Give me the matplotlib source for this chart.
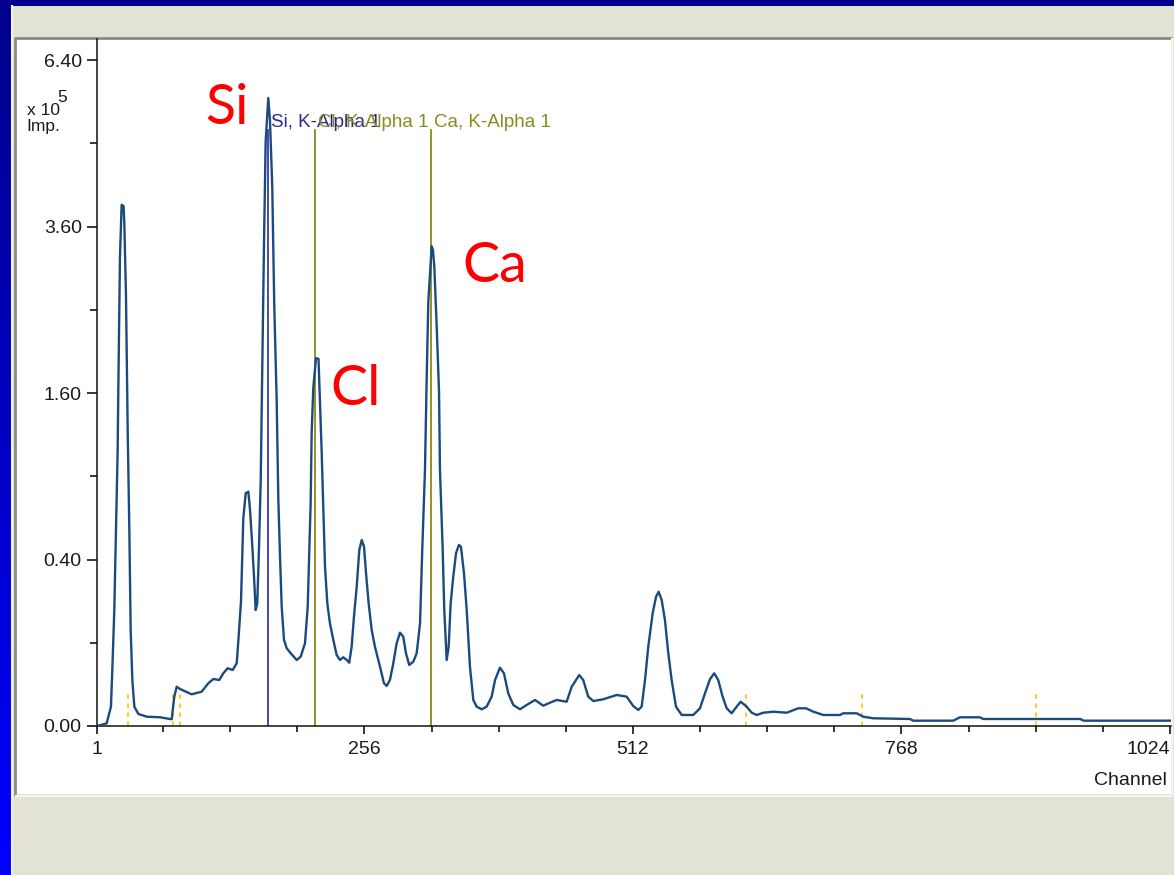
import numpy as np
import matplotlib.pyplot as plt
from matplotlib.patches import Rectangle
from matplotlib.colors import LinearSegmentedColormap

# spectrum: channel vs impulses (x 10^5)
channels = [
    1, 10.2, 11.8, 14.3, 15.6, 17.5, 19.1, 20.7, 21.3, 22.9,
    24.5, 26.3, 27.0, 28.6, 30.3, 31.8, 33.1, 34.7, 36.6, 40.4,
    48.4, 61.1, 72.2, 74.7, 77.0, 80.1, 91.3, 100.8, 107.1, 111.9,
    117.6, 121.4, 125.6, 130.4, 134.2, 135.7, 138.3, 140.5, 142.8, 145.3,
    146.9, 149.1, 150.7, 152.3, 153.8, 155.4, 157.1, 158.8, 160.2, 161.8,
    164.3, 165.9, 168.1, 170.0, 172.3, 173.9, 175.5, 177.1, 179.3, 181.9,
    185.7, 191.4, 195.2, 199.3, 201.9, 203.4, 204.7, 205.7, 207.2, 209.8,
    212.2, 213.6, 215.2, 216.5, 218.4, 220.6, 223.1, 226.3, 229.5, 232.7,
    235.8, 239.1, 241.5, 243.8, 246.0, 248.6, 251.1, 253.4, 255.6, 257.5,
    260.0, 262.9, 266.0, 270.8, 274.6, 277.2, 280.3, 283.5, 286.7, 289.9,
    293.0, 295.6, 298.7, 302.6, 305.8, 309.0, 311.1, 313.7, 315.3, 316.9,
    320.1, 321.3, 322.6, 324.9, 327.1, 328.0, 330.6, 332.1, 334.4, 336.3,
    338.2, 340.7, 343.3, 346.1, 348.0, 350.9, 353.5, 356.6, 359.8, 363.0,
    367.8, 372.5, 377.3, 380.5, 385.2, 389.0, 393.1, 397.9, 404.3, 410.7,
    418.6, 426.5, 432.9, 439.3, 448.8, 453.6, 460.8, 464.6, 469.4, 474.2,
    483.7, 496.5, 506.0, 512.3, 517.1, 520.3, 523.5, 526.6, 530.8, 534.0,
    536.5, 539.4, 542.5, 545.7, 548.9, 553.0, 558.5, 569.5, 575.9, 580.7,
    585.4, 589.5, 593.3, 597.5, 601.4, 606.1, 610.9, 614.7, 620.4, 625.2,
    630.0, 636.3, 645.8, 658.6, 669.6, 677.0, 684.0, 693.5, 709.4, 712.5,
    725.3, 731.6, 741.1, 776.1, 779.2, 817.4, 823.8, 842.8, 846.0, 938.5,
    941.7, 1024,
]
impulses = [
    0, 0.0001, 0.00125, 0.0054, 0.0453, 0.194, 0.555, 1.10, 1.613, 3.18,
    3.92, 3.90, 3.67, 2.70, 1.237, 0.566, 0.133, 0.0305, 0.0054, 0.0021,
    0.00125, 0.0011, 0.00065, 0.0124, 0.0223, 0.0198, 0.0145, 0.0170, 0.0263, 0.0319,
    0.0305, 0.0401, 0.0481, 0.0453, 0.0567, 0.1026, 0.223, 0.623, 0.782, 0.792,
    0.673, 0.464, 0.322, 0.194, 0.217, 0.447, 0.874, 2.04, 3.34, 4.93,
    5.69, 5.30, 4.20, 2.56, 1.534, 0.737, 0.414, 0.205, 0.107, 0.0871,
    0.0763, 0.0629, 0.0693, 0.0987, 0.205, 0.447, 0.716, 1.250, 1.646, 1.952,
    1.944, 1.518, 1.086, 0.737, 0.366, 0.217, 0.152, 0.107, 0.0728, 0.0629,
    0.0681, 0.0629, 0.0578, 0.0908, 0.1725, 0.280, 0.447, 0.499, 0.464, 0.337,
    0.217, 0.133, 0.0908, 0.0508, 0.0263, 0.0231, 0.0305, 0.0567, 0.0987, 0.1257,
    0.1151, 0.0763, 0.0537, 0.0597, 0.0763, 0.152, 0.447, 0.946, 1.728, 2.60,
    3.32, 3.27, 3.05, 2.30, 1.613, 0.946, 0.447, 0.194, 0.0629, 0.0908,
    0.217, 0.322, 0.431, 0.473, 0.464, 0.337, 0.194, 0.0508, 0.00976, 0.0054,
    0.00403, 0.0054, 0.0124, 0.0305, 0.0491, 0.0401, 0.0154, 0.0064, 0.00403, 0.0064,
    0.00976, 0.00595, 0.00784, 0.00976, 0.00852, 0.0223, 0.0375, 0.0305, 0.0124, 0.0090,
    0.0103, 0.0139, 0.0124, 0.00577, 0.0037, 0.0054, 0.0305, 0.0908, 0.1834, 0.241,
    0.260, 0.229, 0.162, 0.0763, 0.0305, 0.0054, 0.00175, 0.00175, 0.00452, 0.0154,
    0.0315, 0.0401, 0.0305, 0.0124, 0.00452, 0.00233, 0.0054, 0.00852, 0.0054, 0.00255,
    0.00175, 0.00255, 0.00295, 0.00255, 0.00452, 0.00452, 0.00295, 0.00175, 0.00175, 0.00233,
    0.00233, 0.00125, 0.00086, 0.00071, 0.00041, 0.00041, 0.00109, 0.00109, 0.00071, 0.00071,
    0.00041, 0.00041,
]

# element lines (K-Alpha 1) and the dashed escape/sum markers
line_names = ['Si, K-Alpha 1', 'Cl, K-Alpha 1', 'Ca, K-Alpha 1']
line_channels = [163.7, 209.0, 319.0]
line_colors = ['#3a3aa8', '#8a8a12', '#8a8a12']
label_colors = ['#2a2a8c', '#8a8a22', '#8a8a22']
marker_channels = [31, 73, 80, 620, 730, 896]

y_ticks = [0, 0.40, 1.60, 3.60, 6.40]
y_minor = [0.10, 0.90, 2.50, 4.90]
x_ticks = [1, 256, 512, 768, 1024]
x_minor = [64, 128, 192, 320, 384, 448, 576, 640, 704, 832, 896, 960]

W, H = 1174, 875
fig = plt.figure(figsize=(W / 100, H / 100), dpi=100)

# window background: blue frame, beige panel, white plot area
bg = fig.add_axes([0, 0, 1, 1])
bg.set_xlim(0, W)
bg.set_ylim(H, 0)
bg.axis('off')
grad = LinearSegmentedColormap.from_list('frame', ['#00008a', '#0000ff'])
bg.imshow(np.linspace(0, 1, 256).reshape(-1, 1), cmap=grad, extent=[0, W, H, 0], aspect='auto')
bg.add_patch(Rectangle((11, 6), W - 11, H - 6, fc='#e3e3d5', ec='none'))
bg.plot([12, 12], [6, H], color='#f2f2ee', lw=1.5)
bg.add_patch(Rectangle((16, 39), 1155, 755, fc='white', ec='none'))
bg.plot([15, 15, 1171], [795, 37.5, 37.5], color='#8a8a86', lw=2)
bg.plot([16, 1172, 1172], [795.5, 795.5, 39], color='#f4f4f2', lw=1.5)

ax = fig.add_axes([97 / W, 1 - 726 / H, (1171 - 97) / W, (726 - 39) / H])
ax.patch.set_alpha(0)
ax.set_yscale('function', functions=(lambda v: np.sqrt(np.clip(v, 0, None)), lambda v: np.square(v)))
ax.set_xlim(1, 1025)
ax.set_ylim(0, 6.81)

for ch, col in zip(line_channels, line_colors):
    ax.axvline(ch, ymin=0, ymax=0.8675, color=col, lw=1.3, zorder=2)
for ch in marker_channels:
    ax.axvline(ch, ymin=0, ymax=0.052, color='#ffcc00', lw=1.3, ls=(0, (2.5, 2.5)), zorder=2)

ax.plot(channels, impulses, color='#1b4a7c', lw=1.7, zorder=3)

for name, ch, col in zip(line_names, line_channels, label_colors):
    ax.annotate(name, xy=(ch, 0.872), xycoords=ax.get_xaxis_transform(),
                xytext=(3, 0), textcoords='offset pixels', ha='left', va='baseline',
                color=col, fontsize=13.5, family='Liberation Sans', zorder=4)

for s in ['top', 'right']:
    ax.spines[s].set_visible(False)
for s in ['left', 'bottom']:
    ax.spines[s].set_linewidth(1.1)
    ax.spines[s].set_color('#111111')

ax.set_yticks(y_ticks)
ax.set_yticklabels(['%.2f' % v for v in y_ticks])
ax.set_yticks(y_minor, minor=True)
ax.set_xticks(x_ticks)
ax.set_xticklabels([str(v) for v in x_ticks])
ax.set_xticks(x_minor, minor=True)
ax.tick_params(axis='y', which='major', length=7, width=1.1, pad=4, direction='out')
ax.tick_params(axis='y', which='minor', length=5, width=1.1, direction='out')
ax.tick_params(axis='x', which='major', length=6, width=1.1, pad=4.5, direction='out')
ax.tick_params(axis='x', which='minor', length=4.5, width=1.1, direction='out')
for lab in ax.get_xticklabels() + ax.get_yticklabels():
    lab.set_family('Liberation Sans')
    lab.set_fontsize(14)
    lab.set_color('#1a1a1a')
# the last channel label sits left of its tick, inside the window
ax.get_xticklabels()[-1].set_horizontalalignment('right')

def fx(px):
    return px / W

def fy(py):
    return 1 - py / H

fig.text(fx(1167), fy(785), 'Channel', ha='right', va='baseline',
         family='Liberation Sans', fontsize=14, color='#1a1a1a')
fig.text(fx(27), fy(115), 'x 10', ha='left', va='baseline',
         family='Liberation Sans', fontsize=12.5, color='#1a1a1a')
fig.text(fx(57), fy(102), '5', ha='left', va='baseline',
         family='Liberation Sans', fontsize=12.5, color='#1a1a1a')
fig.text(fx(26), fy(131), 'Imp.', ha='left', va='baseline',
         family='Liberation Sans', fontsize=12.5, color='#1a1a1a')

# red element annotations
for txt, px, py in [('Si', 205, 124), ('Cl', 330, 405), ('Ca', 462, 282)]:
    fig.text(fx(px), fy(py), txt, ha='left', va='baseline',
             family='Lato', fontsize=40, color='#ff0000')

fig.savefig('out.png', dpi=100)
